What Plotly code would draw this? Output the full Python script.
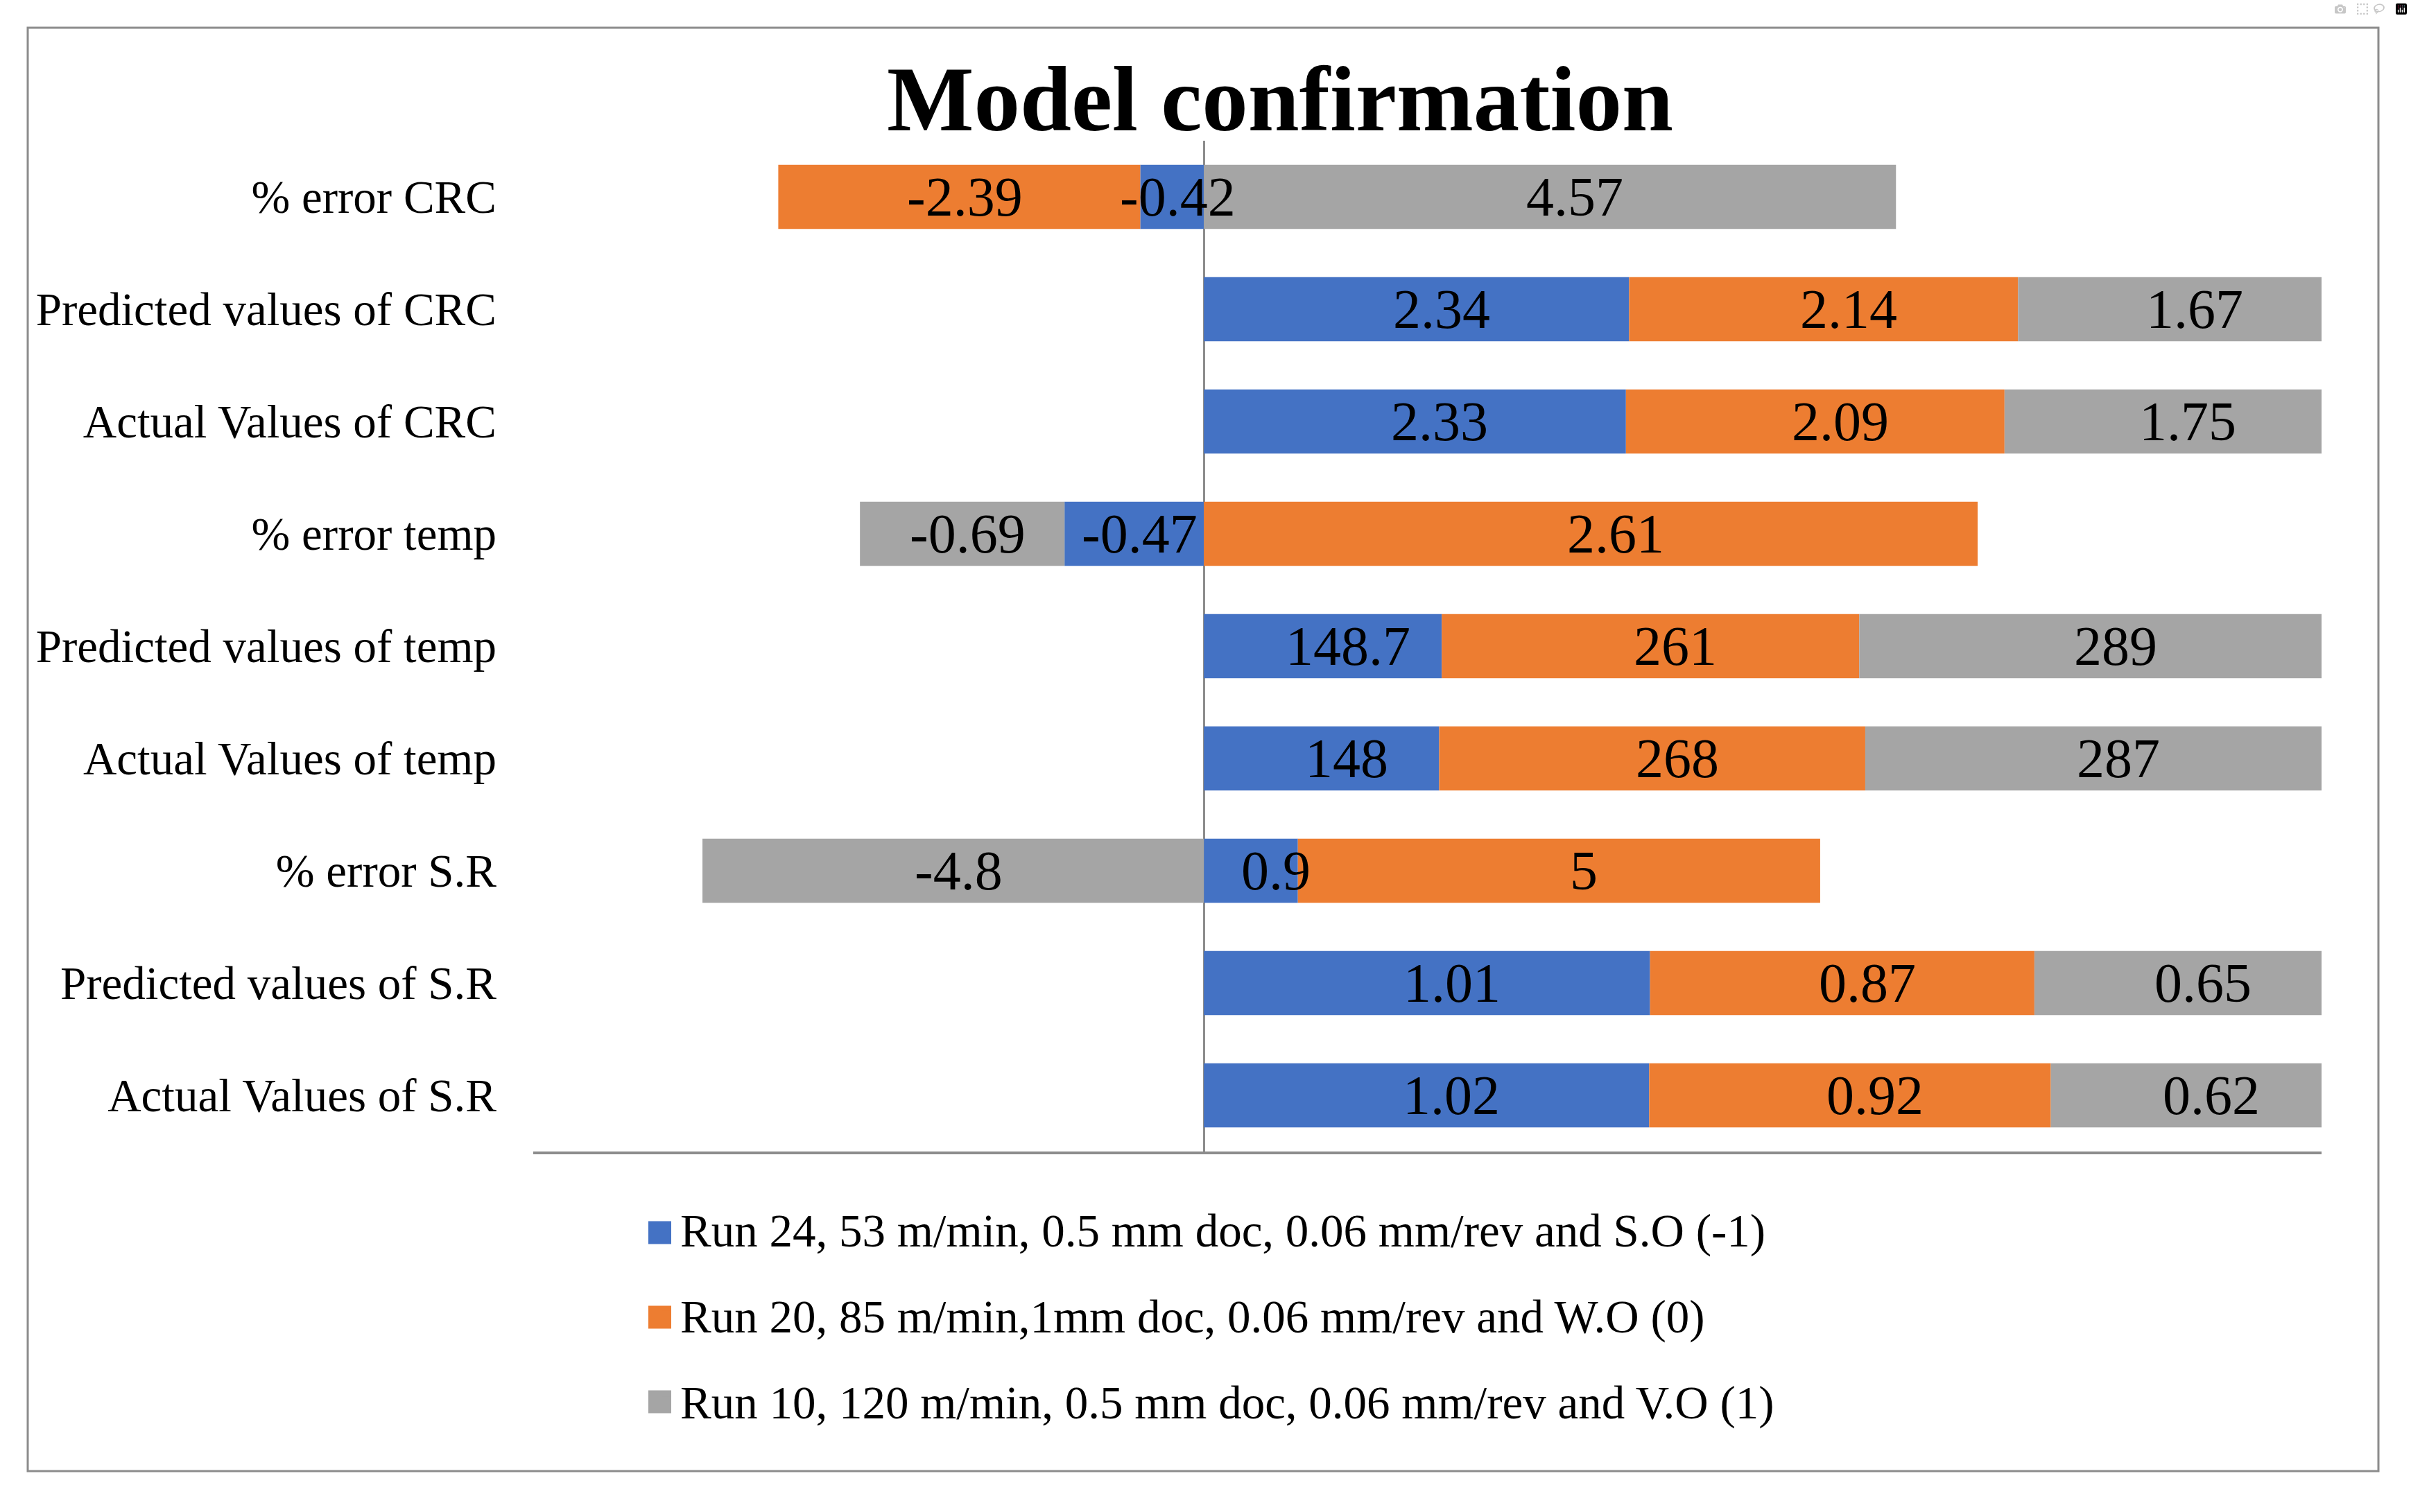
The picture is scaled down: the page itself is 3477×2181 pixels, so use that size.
import plotly.graph_objects as go

# ---------------- data ----------------
categories = [
    "Actual Values of S.R", "Predicted values of S.R", "% error S.R",
    "Actual Values of temp", "Predicted values of temp", "% error temp",
    "Actual Values of CRC", "Predicted values of CRC", "% error CRC",
]
series_names = [
    "Run 24, 53 m/min, 0.5 mm doc, 0.06 mm/rev and S.O (-1)",
    "Run 20, 85 m/min,1mm doc, 0.06 mm/rev and W.O (0)",
    "Run 10, 120 m/min, 0.5 mm doc, 0.06 mm/rev and V.O (1)",
]
run24 = [1.02, 1.01, 0.9, 148, 148.7, -0.47, 2.33, 2.34, -0.42]
run20 = [0.92, 0.87, 5, 268, 261, 2.61, 2.09, 2.14, -2.39]
run10 = [0.62, 0.65, -4.8, 287, 289, -0.69, 1.75, 1.67, 4.57]
series_values = [run24, run20, run10]
series_colors = ["#4472C4", "#ED7D31", "#A5A5A5"]

# 100% stacked: each value as share of the category's absolute total
totals = [sum(abs(s[i]) for s in series_values) for i in range(len(categories))]
shares = [[v / t for v, t in zip(vals, totals)] for vals in series_values]

FONT = "Liberation Serif"
W, H = 3477, 2181
L, R, T, B = 769, 129, 203, 520
pw, ph = W - L - R, H - T - B


def px_to_paper_x(px):
    return (px - L) / pw


def px_to_paper_y(py):
    return (H - B - py) / ph


fig = go.Figure()
for k, (name, sh, col) in enumerate(zip(series_names, shares, series_colors)):
    fig.add_trace(go.Bar(
        y=categories,
        x=sh,
        orientation="h",
        name=name,
        legendgroup=f"g{k}",
        marker=dict(color=col, line=dict(width=0)),
        hoverinfo="skip",
    ))

# data labels (centred in each stacked segment, drawn above all bars)
annotations = []
pos_base = [0.0] * len(categories)
neg_base = [0.0] * len(categories)
for vals, sh in zip(series_values, shares):
    for i, (v, s) in enumerate(zip(vals, sh)):
        if s >= 0:
            centre = pos_base[i] + s / 2
            pos_base[i] += s
        else:
            centre = neg_base[i] + s / 2
            neg_base[i] += s
        annotations.append(dict(
            x=centre, y=categories[i], xref="x", yref="y",
            text=f"{v:g}", showarrow=False,
            xshift=36 if v > 0 else 8,
            font=dict(family=FONT, size=80, color="black"),
        ))

# larger legend keys (sit behind plotly's own legend symbols)
legend_rows = [1778, 1900, 2022]
shapes = [dict(
    type="rect", xref="paper", yref="paper",
    x0=px_to_paper_x(40), x1=px_to_paper_x(3430),
    y0=px_to_paper_y(2122), y1=px_to_paper_y(40),
    line=dict(color="#8C8C8C", width=3),
    fillcolor="rgba(0,0,0,0)", layer="below",
)]
for yc, col in zip(legend_rows, series_colors):
    shapes.append(dict(
        type="rect", xref="paper", yref="paper",
        x0=px_to_paper_x(935), x1=px_to_paper_x(968),
        y0=px_to_paper_y(yc + 16.5), y1=px_to_paper_y(yc - 16.5),
        line=dict(width=0), fillcolor=col, layer="above",
    ))

fig.update_layout(
    width=W, height=H,
    barmode="relative",
    bargap=0.43,
    paper_bgcolor="white",
    plot_bgcolor="white",
    margin=dict(l=L, r=R, t=T, b=B, pad=0),
    title=dict(
        text="Model confirmation",
        font=dict(family=FONT, size=133, color="black", weight="bold"),
        xref="paper", x=px_to_paper_x(1846), xanchor="center",
        yref="container", y=1 - 141 / H, yanchor="middle",
    ),
    xaxis=dict(
        range=[-0.6, 1.0],
        showticklabels=False, ticks="", showgrid=False,
        zeroline=True, zerolinecolor="#8C8C8C", zerolinewidth=2.5,
        showline=True, linecolor="#8C8C8C", linewidth=4,
        fixedrange=True,
    ),
    yaxis=dict(
        type="category",
        categoryorder="array", categoryarray=categories,
        showgrid=False, zeroline=False, showline=False, ticks="",
        ticklabelstandoff=52,
        tickfont=dict(family=FONT, size=67, color="black"),
        fixedrange=True,
    ),
    legend=dict(
        orientation="v",
        traceorder="grouped",
        tracegroupgap=34,
        x=px_to_paper_x(941), xanchor="left",
        y=px_to_paper_y(1722), yanchor="top",
        font=dict(family=FONT, size=67, color="black"),
        bgcolor="rgba(0,0,0,0)",
    ),
    showlegend=True,
    annotations=annotations,
    shapes=shapes,
)

fig.write_html("out.html", post_script="document.body.style.margin='0';")
